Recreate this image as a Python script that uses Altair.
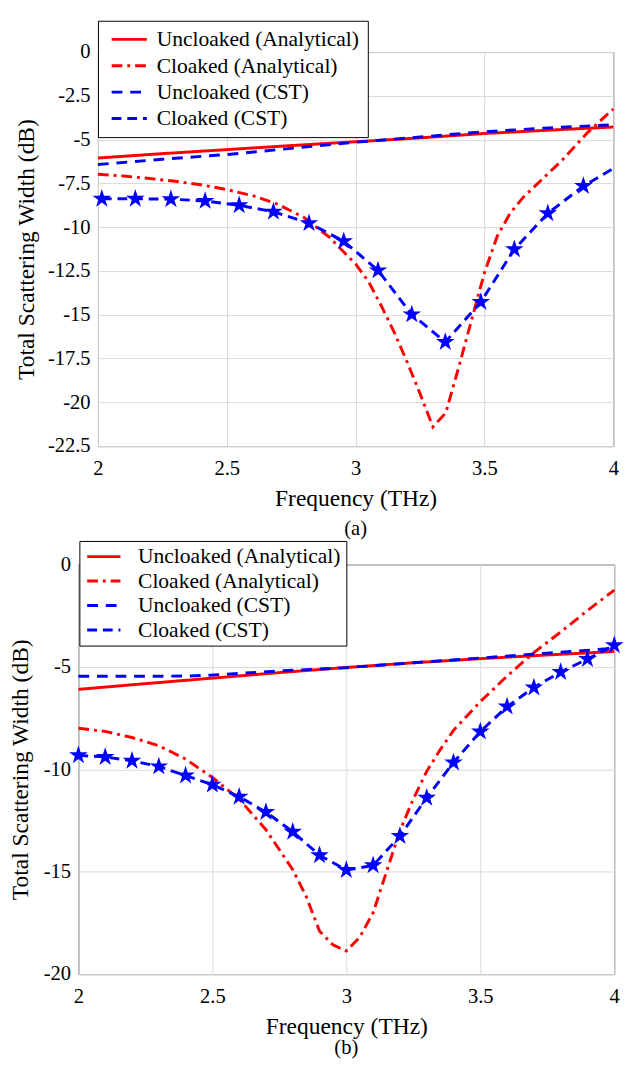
import math
import altair as alt
import pandas as pd

FONT = "Liberation Serif, Times New Roman, serif"
SERIES = ["Uncloaked (Analytical)", "Cloaked (Analytical)", "Uncloaked (CST)", "Cloaked (CST)"]
COLORS = ["#ff0000", "#ff0000", "#0000ff", "#0000ff"]
DASHES = [[1, 0], [11, 5, 3, 5], [11, 8], [10, 6]]
X_TICKS = [2, 2.5, 3, 3.5, 4]
YA_TICKS = [0, -2.5, -5, -7.5, -10, -12.5, -15, -17.5, -20, -22.5]
YB_TICKS = [0, -5, -10, -15, -20]

# ---------------- panel (a) ----------------
A_UNC_ANA_F = [2.0, 2.25, 2.5, 2.75, 3.0, 3.25, 3.5, 3.75, 4.0]
A_UNC_ANA_V = [-6.05, -5.8, -5.57, -5.34, -5.12, -4.9, -4.65, -4.46, -4.28]
A_UNC_CST_F = [2.0, 2.25, 2.5, 2.75, 3.0, 3.25, 3.5, 3.75, 4.0]
A_UNC_CST_V = [-6.42, -6.12, -5.85, -5.5, -5.15, -4.85, -4.55, -4.33, -4.15]
A_CLK_ANA_F = [2.0, 2.1, 2.2, 2.3, 2.4, 2.5, 2.6, 2.7, 2.8, 2.9, 3.0, 3.05, 3.1, 3.15,
               3.2, 3.25, 3.3, 3.35, 3.4, 3.45, 3.5, 3.55, 3.6, 3.65, 3.7, 3.8, 3.9, 4.0]
A_CLK_ANA_V = [-6.98, -7.08, -7.22, -7.38, -7.58, -7.85, -8.2, -8.7, -9.45, -10.6, -12.1, -13.1,
               -14.5, -16.0, -17.7, -19.5, -21.4, -20.6, -18.0, -15.3, -12.6, -10.5, -9.2, -8.3,
               -7.6, -6.2, -4.6, -3.25]
A_STAR_F = [2.015, 2.145, 2.283, 2.416, 2.548, 2.681, 2.819, 2.954, 3.087, 3.218, 3.348,
            3.486, 3.616, 3.746, 3.884]
A_STAR_V = [-8.38, -8.38, -8.4, -8.5, -8.75, -9.12, -9.77, -10.8, -12.47, -14.98, -16.56,
            -14.27, -11.26, -9.21, -7.65]
A_STAR_END_F = [4.0]
A_STAR_END_V = [-6.65]

# ---------------- panel (b) ----------------
B_UNC_ANA_F = [2.0, 2.25, 2.5, 2.75, 3.0, 3.25, 3.5, 3.75, 4.0]
B_UNC_ANA_V = [-6.1, -5.82, -5.55, -5.28, -5.03, -4.8, -4.6, -4.42, -4.25]
B_UNC_CST_F = [2.0, 2.2, 2.4, 2.5, 2.6, 2.75, 3.0, 3.25, 3.5, 3.75, 4.0]
B_UNC_CST_V = [-5.46, -5.46, -5.45, -5.4, -5.32, -5.2, -5.04, -4.8, -4.57, -4.33, -4.1]
B_CLK_ANA_F = [2.0, 2.1, 2.2, 2.3, 2.4, 2.5, 2.6, 2.7, 2.8, 2.85, 2.9, 2.95, 3.0, 3.05,
               3.1, 3.15, 3.2, 3.25, 3.3, 3.35, 3.4, 3.5, 3.6, 3.7, 3.8, 3.9, 4.0]
B_CLK_ANA_V = [-8.0, -8.15, -8.45, -8.85, -9.5, -10.4, -11.45, -12.95, -14.9, -16.2, -17.9,
               -18.57, -18.87, -18.2, -17.0, -15.0, -13.0, -11.45, -10.1, -9.05, -8.1, -6.7,
               -5.45, -4.3, -3.3, -2.25, -1.25]
B_STAR_F = [2.0, 2.1, 2.2, 2.3, 2.4, 2.5, 2.6, 2.7, 2.8, 2.9, 3.0, 3.1, 3.2, 3.3, 3.4, 3.5,
            3.6, 3.7, 3.8, 3.9, 4.0]
B_STAR_V = [-9.32, -9.4, -9.59, -9.86, -10.31, -10.75, -11.34, -12.09, -13.05, -14.2, -14.92,
            -14.69, -13.26, -11.39, -9.67, -8.16, -6.94, -6.01, -5.25, -4.62, -3.95]


def star_points(r_out=1.0, r_in=0.382):
    pts = []
    for k in range(10):
        ang = -math.pi / 2 + k * math.pi / 5
        r = r_out if k % 2 == 0 else r_in
        pts.append("%.3f,%.3f" % (r * math.cos(ang), r * math.sin(ang)))
    return "M" + "L".join(pts) + "Z"


STAR_MARK = star_points()          # custom SVG symbol (Vega has no built-in star)
LINE_PATH = "M-2,0L2,0"            # wide, short legend line symbol


def long_df(parts):
    rows = []
    for name, fs, vs in parts:
        for i, (f, v) in enumerate(zip(fs, vs)):
            rows.append({"series": name, "freq": float(f), "db": float(v), "idx": int(i)})
    return pd.DataFrame(rows)


def panel(lines_df, stars_df, ydom, yticks, w, h, title_x, leg, caption, cap_offset):
    xaxis = alt.Axis(title="Frequency (THz)", values=X_TICKS, labelExpr="'' + datum.value",
                     labelFlush=False, labelPadding=12, titlePadding=9, ticks=False,
                     domain=False, grid=True, gridColor="#d9d9d9", gridWidth=1,
                     labelFont=FONT, labelFontSize=21, labelColor="black",
                     titleFont=FONT, titleFontSize=24, titleFontWeight="normal",
                     titleColor="black")
    yaxis = alt.Axis(title="Total Scattering Width (dB)", values=yticks,
                     labelExpr="'' + datum.value", labelFlush=False, labelPadding=8,
                     ticks=False, domain=False, grid=True, gridColor="#d9d9d9", gridWidth=1,
                     labelFont=FONT, labelFontSize=21, labelColor="black",
                     titleFont=FONT, titleFontSize=24, titleFontWeight="normal",
                     titleColor="black", titleX=title_x, titleY=h / 2,
                     titleBaseline="middle", titleAlign="center")
    x = alt.X("freq:Q", scale=alt.Scale(domain=[2, 4], nice=False, zero=False), axis=xaxis)
    y = alt.Y("db:Q", scale=alt.Scale(domain=ydom, nice=False, zero=False), axis=yaxis)

    legend = alt.Legend(title=None, orient="none", direction="vertical",
                        legendX=leg["x"], legendY=leg["y"], padding=leg["pad"],
                        rowPadding=leg["rowpad"], symbolOffset=leg["symoff"],
                        labelOffset=leg["laboff"], symbolSize=leg["size"],
                        symbolType=LINE_PATH, symbolStrokeWidth=3, symbolOpacity=1,
                        labelFont=FONT, labelFontSize=22, labelColor="black", labelLimit=400,
                        strokeColor="#000000", fillColor="white", cornerRadius=0)

    lines = alt.Chart(lines_df).mark_line(strokeWidth=3, strokeCap="butt").encode(
        x=x, y=y,
        color=alt.Color("series:N", scale=alt.Scale(domain=SERIES, range=COLORS),
                        legend=legend),
        strokeDash=alt.StrokeDash("series:N", scale=alt.Scale(domain=SERIES, range=DASHES),
                                  legend=legend),
        order="idx:Q",
    )
    stars = alt.Chart(stars_df).mark_point(shape=STAR_MARK, filled=True, size=400, opacity=1,
                                           color="#0000ff").encode(x=x, y=y)

    return alt.layer(lines, stars).properties(
        width=w, height=h,
        title=alt.TitleParams(text=caption, orient="bottom", anchor="middle", font=FONT,
                              fontSize=21, fontWeight="normal", color="black",
                              offset=cap_offset),
    )


lines_a = long_df([
    (SERIES[0], A_UNC_ANA_F, A_UNC_ANA_V),
    (SERIES[1], A_CLK_ANA_F, A_CLK_ANA_V),
    (SERIES[2], A_UNC_CST_F, A_UNC_CST_V),
    (SERIES[3], A_STAR_F + A_STAR_END_F, A_STAR_V + A_STAR_END_V),
])
stars_a = pd.DataFrame({"freq": A_STAR_F, "db": A_STAR_V})
lines_b = long_df([
    (SERIES[0], B_UNC_ANA_F, B_UNC_ANA_V),
    (SERIES[1], B_CLK_ANA_F, B_CLK_ANA_V),
    (SERIES[2], B_UNC_CST_F, B_UNC_CST_V),
    (SERIES[3], B_STAR_F, B_STAR_V),
])
stars_b = pd.DataFrame({"freq": B_STAR_F, "db": B_STAR_V})

panel_a = panel(lines_a, stars_a, [-22.5, 0], YA_TICKS, 527, 403, -73,
                dict(x=0, y=-32, pad=8, rowpad=5, symoff=13, laboff=17, size=324),
                "(a)", 8)
panel_b = panel(lines_b, stars_b, [-20, 0], YB_TICKS, 548, 419, -59,
                dict(x=1, y=-24, pad=5, rowpad=3, symoff=9, laboff=24, size=289),
                "(b)", -1)

dummy = alt.Chart(pd.DataFrame({"d": [0]})).mark_point(opacity=0).encode(
    x=alt.value(0), y=alt.value(0)
).properties(width=20, height=10, view=alt.ViewBackground(stroke="transparent"))

IND = dict(x="independent", y="independent", color="independent",
           strokeDash="independent")
LEG_IND = dict(color="independent", strokeDash="independent")

row_a = alt.hconcat(dummy, panel_a, spacing=0, bounds="flush") \
    .resolve_scale(**IND).resolve_legend(**LEG_IND)

chart = alt.vconcat(row_a, panel_b, spacing=0).resolve_scale(**IND) \
    .resolve_legend(**LEG_IND) \
    .properties(padding=0).configure(font=FONT) \
    .configure_view(stroke="#505050", strokeWidth=1)

chart.save("out.html", embed_options={"renderer": "svg", "actions": False})
